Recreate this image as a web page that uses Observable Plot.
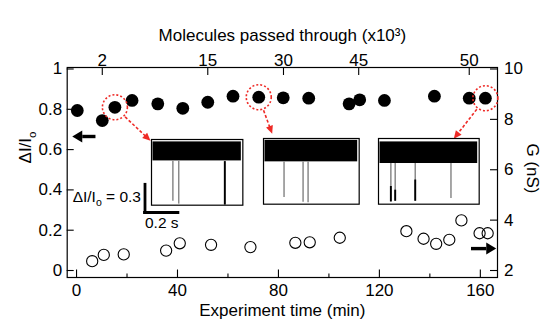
<!DOCTYPE html>
<html><head><meta charset="utf-8">
<script src="https://cdn.jsdelivr.net/npm/d3@7"></script>
<script src="https://cdn.jsdelivr.net/npm/@observablehq/plot@0.6"></script>
<style>
body{margin:0;background:#fff;}
#wrap{position:relative;width:543px;height:324px;overflow:hidden;background:#fff;}
#wrap > svg, #wrap > div{position:absolute;}
</style></head><body><div id="wrap"></div>
<script>
// ---------- data ----------
const filledTime = [0.3, 10.2, 15.2, 22, 32.2, 42.1, 52, 62, 72.2, 81.9, 92, 108, 112.2, 122, 141.8, 155.6, 162];
const filledDI   = [0.794, 0.744, 0.81, 0.844, 0.827, 0.805, 0.835, 0.865, 0.86, 0.857, 0.855, 0.827, 0.847, 0.844, 0.865, 0.855, 0.855];
const openTime = [6.2, 10.8, 18.7, 35.5, 40.9, 53.3, 68.9, 86.7, 92.4, 104.3, 130.7, 137.5, 142.5, 147.7, 152.5, 159.7, 162.9];
const openG    = [2.37, 2.62, 2.64, 2.79, 3.08, 3.02, 2.93, 3.10, 3.12, 3.30, 3.56, 3.26, 3.06, 3.22, 3.99, 3.48, 3.48];
const timeTicks = [0, 40, 80, 120, 160];
const timeMinorTicks = [20, 60, 100, 140];
const diTicks = [0, 0.2, 0.4, 0.6, 0.8, 1];
const gTicks = [2, 4, 6, 8, 10];
const molTickTimes = [10.2, 52, 82, 111.8, 155.6];
const molTickLabels = ["2", "15", "30", "45", "50"];
const highlighted = [2, 8, 16];           // indices of circled filled points
const leftArrowDI = 0.665, leftArrowTail = 7.5, leftArrowTip = -1.7;
const rightArrowG = 2.87, rightArrowTail = 156.3, rightArrowTip = 166.3;

// inset current traces
const insetDuration  = [0.547, 0.573, 0.603];
const insetNoiseLow  = [-0.094, -0.10, -0.083];
const insetNoiseHigh = [0.112, 0.133, 0.151];
const spikeInset    = [0, 0, 0, 1, 1, 1, 2, 2, 2, 2];
const spikeTime     = [0.128, 0.163, 0.439, 0.123, 0.237, 0.267, 0.074, 0.100, 0.220, 0.434];
const spikeDepth    = [0.548, 0.58, 0.59, 0.52, 0.57, 0.575, 0.567, 0.56, 0.56, 0.53];
const spikeDarkFrom = [null, null, 0.12, null, null, null, 0.40, 0.44, 0.33, null];
const scaleBarDI = 0.3, scaleBarSec = 0.2;

// ---------- layout ----------
const W = 543, H = 324, ML = 66.7, MR = 543 - 497, MT = 67, MB = 324 - 277;
const innerW = W - ML - MR, innerH = H - MT - MB;
const xDom = [-3.7, 166.8], yDom = [-0.0347, 1.0074];
const xs = d3.scaleLinear(xDom, [ML, W - MR]);
const ys = d3.scaleLinear(yDom, [H - MB, MT]);
const font = "'Liberation Sans', Arial, Helvetica, sans-serif";
const RED = "#ee2a26";
const gToY = g => (g - 2) / 8;

const insetLeft = [151, 262.7, 378.3], insetTop = [139.3, 138.3, 138.3];
const insetH = 65.7, pxPerSec = 167, pxPerDI = 92.3, insetTopDI = -0.12;
const arrowTargetOffset = [[-1, 1], [9, -5], [75, 0]];
const redHeadLen = 8, redHeadHalf = 3.6;

// red arrows computed in pixel space, expressed back in data units
const redArrows = highlighted.map((idx, i) => {
  const cx = xs(filledTime[idx]), cy = ys(filledDI[idx]);
  const tx = insetLeft[i] + arrowTargetOffset[i][0], ty = insetTop[i] + arrowTargetOffset[i][1];
  const dx = tx - cx, dy = ty - cy, L = Math.hypot(dx, dy), ux = dx / L, uy = dy / L;
  const bx = tx - ux * redHeadLen, by = ty - uy * redHeadLen;
  return {
    x1: xs.invert(cx + ux * 14), y1: ys.invert(cy + uy * 14),
    x2: xs.invert(bx + ux), y2: ys.invert(by + uy),
    bx: xs.invert(bx), by: ys.invert(by),
    rot: Math.atan2(ux, -uy) * 180 / Math.PI
  };
});
const blackHeadLen = 10, blackHeadHalf = 6;
const axisArrows = [
  {y: leftArrowDI, tail: leftArrowTail, base: xs.invert(xs(leftArrowTip) + blackHeadLen), rot: -90},
  {y: gToY(rightArrowG), tail: rightArrowTail, base: xs.invert(xs(rightArrowTip) - blackHeadLen), rot: 90}
];

const filled = filledTime.map((t, i) => ({t, v: filledDI[i]}));
const open = openTime.map((t, i) => ({t, g: openG[i]}));
const circled = highlighted.map(i => filled[i]);

const FS = 17;
const main = Plot.plot({
  width: W, height: H, marginLeft: ML, marginRight: MR, marginTop: MT, marginBottom: MB,
  x: {domain: xDom, axis: null}, y: {domain: yDom, axis: null},
  style: {fontFamily: font, fontSize: FS + "px", color: "black", background: "transparent", overflow: "visible"},
  marks: [
    Plot.frame({stroke: "black", strokeWidth: 1.2}),
    Plot.tickX(timeTicks, {x: d => d, insetTop: innerH - 7.5, strokeWidth: 1.1}),
    Plot.tickX(timeMinorTicks, {x: d => d, insetTop: innerH - 3.5, strokeWidth: 1.1}),
    Plot.tickX(molTickTimes, {x: d => d, insetBottom: innerH - 8, strokeWidth: 1.1}),
    Plot.tickY(diTicks, {y: d => d, insetRight: innerW - 7, strokeWidth: 1.1}),
    Plot.tickY(gTicks, {y: gToY, insetLeft: innerW - 7, strokeWidth: 1.1}),
    Plot.text(timeTicks, {x: d => d, text: d => String(d), frameAnchor: "bottom", dy: 18}),
    Plot.text(molTickTimes, {x: d => d, text: (d, i) => molTickLabels[i], frameAnchor: "top", dy: -14}),
    Plot.text(diTicks, {y: d => d, text: d => String(d), frameAnchor: "left", textAnchor: "end", dx: -5}),
    Plot.text(gTicks, {y: gToY, text: d => String(d), frameAnchor: "right", textAnchor: "start", dx: 6.5}),
    Plot.text(["Experiment time (min)"], {text: d => d, frameAnchor: "bottom", textAnchor: "middle", dy: 38}),
    Plot.text(["Molecules passed through (x10\u00b3)"], {text: d => d, frameAnchor: "top", textAnchor: "middle", dy: -39}),
    Plot.text(["\u0394I/Io"], {text: d => d, frameAnchor: "left", textAnchor: "middle", rotate: -90, dx: -41.7, dy: -25}),
    Plot.text(["G (nS)"], {text: d => d, frameAnchor: "right", textAnchor: "middle", rotate: 90, dx: 35, dy: -4}),
    Plot.dot(open, {x: "t", y: d => gToY(d.g), r: 5.6, stroke: "black", strokeWidth: 1.1, fill: "none"}),
    Plot.dot(filled, {x: "t", y: "v", r: 6.4, fill: "black", stroke: "none"}),
    Plot.dot(circled, {x: "t", y: "v", r: 12.5, stroke: RED, strokeWidth: 1.6, strokeDasharray: "2,2", fill: "none"}),
    Plot.link(redArrows, {x1: "x1", y1: "y1", x2: "x2", y2: "y2", stroke: RED, strokeWidth: 1.6, strokeDasharray: "3,2"}),
    Plot.vector(redArrows, {x: "bx", y: "by", rotate: "rot", length: redHeadLen, r: redHeadHalf, shape: "spike", anchor: "start", fill: RED, stroke: "none"}),
    Plot.link(axisArrows, {x1: "tail", x2: "base", y1: "y", y2: "y", stroke: "black", strokeWidth: 3.4}),
    Plot.vector(axisArrows, {x: "base", y: "y", rotate: "rot", length: blackHeadLen, r: blackHeadHalf, shape: "spike", anchor: "start", fill: "black", stroke: "none"})
  ]
});

function subscriptO(root, fs) {
  root.querySelectorAll("text").forEach(t => {
    const s = t.textContent;
    const k = s.indexOf("I/Io");
    if (k < 0) return;
    const cut = k + 3;
    const ns = "http://www.w3.org/2000/svg";
    while (t.firstChild) t.removeChild(t.firstChild);
    const a = document.createElementNS(ns, "tspan"); a.textContent = s.slice(0, cut);
    const b = document.createElementNS(ns, "tspan"); b.textContent = "o";
    b.setAttribute("font-size", (fs * 0.68) + "px"); b.setAttribute("dy", (fs * 0.28) + "px");
    t.appendChild(a); t.appendChild(b);
    if (s.length > cut + 1) {
      const c = document.createElementNS(ns, "tspan"); c.textContent = s.slice(cut + 1);
      c.setAttribute("dy", (-fs * 0.28) + "px");
      t.appendChild(c);
    }
  });
}
subscriptO(main, FS);

const wrap = document.getElementById("wrap");
main.style.left = "0px"; main.style.top = "0px";
wrap.appendChild(main);

// ---------- insets ----------
insetDuration.forEach((dur, i) => {
  const w = dur * pxPerSec;
  const bottomDI = insetTopDI + insetH / pxPerDI;
  const spikes = spikeTime.map((t, j) => ({t, depth: spikeDepth[j], dark: spikeDarkFrom[j], inset: spikeInset[j]}))
    .filter(d => d.inset === i);
  const band = [{t0: 0, t1: dur, lo: insetNoiseLow[i], hi: insetNoiseHigh[i]}];
  const p = Plot.plot({
    width: w + 2, height: insetH + 2, margin: 1,
    x: {domain: [0, dur], axis: null}, y: {domain: [bottomDI, insetTopDI], axis: null},
    style: {background: "transparent", overflow: "visible"},
    marks: [
      Plot.rect(band, {x1: "t0", x2: "t1", y1: "lo", y2: "hi", fill: "black", insetLeft: 1.5, insetRight: 1.5}),
      Plot.ruleX(spikes, {x: "t", y1: insetNoiseHigh[i], y2: "depth", stroke: "#8a8a8a", strokeWidth: 1.5}),
      Plot.ruleX(spikes.filter(d => d.dark != null), {x: "t", y1: "dark", y2: "depth", stroke: "black", strokeWidth: 1.9}),
      Plot.frame({stroke: "black", strokeWidth: 1.2})
    ]
  });
  p.style.left = (insetLeft[i] - 1) + "px";
  p.style.top = (insetTop[i] - 1) + "px";
  wrap.appendChild(p);
});

// ---------- scale bar ----------
const SFS = 15.5;
const sbLeft = 55, sbTop = 176, sbW = 140, sbH = 62, ox = 144.5 - sbLeft, oy = 212 - sbTop;
const sb = Plot.plot({
  width: sbW, height: sbH, margin: 0,
  x: {domain: [-ox / pxPerSec, (sbW - ox) / pxPerSec], axis: null},
  y: {domain: [-(sbH - oy) / pxPerDI, oy / pxPerDI], axis: null},
  style: {fontFamily: font, fontSize: SFS + "px", color: "black", background: "transparent", overflow: "visible"},
  marks: [
    Plot.ruleX([scaleBarDI], {x: 0, y1: 0, y2: d => d, stroke: "black", strokeWidth: 2.8, strokeLinecap: "square"}),
    Plot.ruleY([scaleBarSec], {y: 0, x1: 0, x2: d => d, stroke: "black", strokeWidth: 2.8, strokeLinecap: "square"}),
    Plot.text([scaleBarDI], {x: 0, y: d => d / 2, text: d => `\u0394I/Io = ${d}`, textAnchor: "end", dx: -4, dy: -2}),
    Plot.text([scaleBarSec], {x: 0, y: 0, text: d => `${d} s`, textAnchor: "start", dx: 0, dy: 11})
  ]
});
subscriptO(sb, SFS);
sb.style.left = sbLeft + "px"; sb.style.top = sbTop + "px";
wrap.appendChild(sb);
</script></body></html>
